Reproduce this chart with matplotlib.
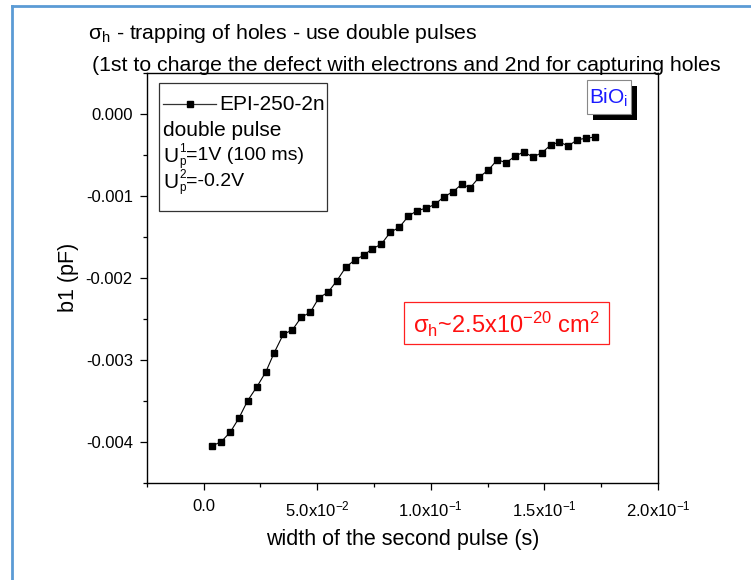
import matplotlib
matplotlib.use("Agg")
import matplotlib.pyplot as plt
from matplotlib.patches import Rectangle
from matplotlib.lines import Line2D

plt.rcParams['font.family'] = ['Liberation Sans', 'DejaVu Sans']
plt.rcParams['mathtext.fontset'] = 'custom'
plt.rcParams['mathtext.rm'] = 'Liberation Sans'
plt.rcParams['mathtext.it'] = 'Liberation Sans:italic'
plt.rcParams['mathtext.default'] = 'regular'

# second pulse width (s) and amplitude b1 (pF)
pulse_width = [0.0039, 0.0078, 0.0118, 0.0156, 0.0194, 0.0235, 0.0274, 0.0311,
               0.0351, 0.0391, 0.0430, 0.0470, 0.0508, 0.0548, 0.0587, 0.0626,
               0.0665, 0.0705, 0.0743, 0.0782, 0.0822, 0.0862, 0.0901, 0.0939,
               0.0979, 0.1019, 0.1058, 0.1097, 0.1136, 0.1174, 0.1214, 0.1254,
               0.1293, 0.1331, 0.1371, 0.1409, 0.1449, 0.1488, 0.1528, 0.1566,
               0.1605, 0.1645, 0.1683, 0.1723]
b1 = [-0.004050, -0.004001, -0.003883, -0.003712, -0.003501, -0.003330,
      -0.003150, -0.002915, -0.002690, -0.002637, -0.002482, -0.002421,
      -0.002243, -0.002177, -0.002035, -0.001872, -0.001783, -0.001725,
      -0.001645, -0.001591, -0.001444, -0.001383, -0.001249, -0.001181,
      -0.001151, -0.001103, -0.001010, -0.000952, -0.000858, -0.000900,
      -0.000769, -0.000684, -0.000558, -0.000595, -0.000516, -0.000464,
      -0.000525, -0.000476, -0.000379, -0.000342, -0.000391, -0.000314,
      -0.000297, -0.000281]

x_ticks = [0.0, 0.05, 0.10, 0.15, 0.20]
x_tick_labels = ['0.0', '5.0x10$^{-2}$', '1.0x10$^{-1}$', '1.5x10$^{-1}$', '2.0x10$^{-1}$']
y_ticks = [0.000, -0.001, -0.002, -0.003, -0.004]
y_tick_labels = ['0.000', '-0.001', '-0.002', '-0.003', '-0.004']

W, H = 751, 580
fig = plt.figure(figsize=(W / 100, H / 100), dpi=100)


def fx(px):
    return px / W


def fy(py):
    return 1 - py / H


AX_L, AX_R, AX_T, AX_B = 146.7, 658.0, 73.0, 482.6
ax = fig.add_axes([fx(AX_L), fy(AX_B), fx(AX_R) - fx(AX_L), fy(AX_T) - fy(AX_B)])


def ax_x(px):
    return (px - AX_L) / (AX_R - AX_L)


def ax_y(py):
    return (AX_B - py) / (AX_B - AX_T)


ax.plot(pulse_width, b1, color='black', lw=0.8, marker='s', ms=4.5,
        markerfacecolor='black', markeredgecolor='black')

ax.set_xlim(-0.025, 0.2)
ax.set_ylim(-0.0045, 0.0005)
ax.set_xticks(x_ticks)
ax.set_xticklabels(x_tick_labels)
ax.set_yticks(y_ticks)
ax.set_yticklabels(y_tick_labels)
ax.set_xticks([-0.025, 0.025, 0.075, 0.125, 0.175], minor=True)
ax.set_yticks([0.0005, -0.0005, -0.0015, -0.0025, -0.0035, -0.0045], minor=True)
ax.tick_params(which='major', direction='out', length=5, width=0.9, labelsize=12)
ax.tick_params(axis='x', which='major', pad=7)
ax.tick_params(axis='y', which='major', pad=5)
ax.tick_params(which='minor', direction='out', length=3, width=0.9)
ax.tick_params(top=False, right=False)
for s in ax.spines.values():
    s.set_linewidth(1.0)

ax.set_xlabel('width of the second pulse (s)', fontsize=15.5, labelpad=7)
ax.set_ylabel('b1 (pF)', fontsize=15.5, labelpad=5)

# box with series and measurement conditions
ax.add_patch(Rectangle((ax_x(159), ax_y(211)), ax_x(327) - ax_x(159), ax_y(83) - ax_y(211),
                       transform=ax.transAxes, facecolor='white', edgecolor='#333333',
                       lw=0.9, zorder=5))
ax.add_line(Line2D([ax_x(163), ax_x(216)], [ax_y(104), ax_y(104)], transform=ax.transAxes,
                   color='#333333', lw=0.9, zorder=6))
ax.add_line(Line2D([ax_x(189.5)], [ax_y(104)], transform=ax.transAxes, marker='s', ms=4.5,
                   color='black', zorder=6))
ax.text(ax_x(219), ax_y(104), 'EPI-250-2n', transform=ax.transAxes, fontsize=15,
        va='center', ha='left', zorder=6)
ax.text(ax_x(163), ax_y(130), 'double pulse', transform=ax.transAxes, fontsize=15,
        va='center', ha='left', zorder=6)


def pulse_line(py, sup, rest):
    ax.text(ax_x(163), ax_y(py), 'U', transform=ax.transAxes, fontsize=15,
            va='center', ha='left', zorder=6)
    ax.text(ax_x(179), ax_y(py - 6.5), sup, transform=ax.transAxes, fontsize=8.5,
            va='center', ha='left', zorder=6)
    ax.text(ax_x(179), ax_y(py + 6.5), 'p', transform=ax.transAxes, fontsize=8.5,
            va='center', ha='left', zorder=6)
    ax.text(ax_x(186), ax_y(py), rest, transform=ax.transAxes, fontsize=14,
            va='center', ha='left', zorder=6)


pulse_line(156, '1', '=1V (100 ms)')
pulse_line(182, '2', '=-0.2V')

# BiOi label with drop shadow
ax.add_patch(Rectangle((ax_x(592.5), ax_y(119.5)), ax_x(637) - ax_x(592.5), ax_y(86) - ax_y(119.5),
                       transform=ax.transAxes, facecolor='black', edgecolor='black', lw=0, zorder=5))
ax.add_patch(Rectangle((ax_x(587), ax_y(114)), ax_x(631) - ax_x(587), ax_y(80) - ax_y(114),
                       transform=ax.transAxes, facecolor='white', edgecolor='#888888', lw=0.8, zorder=6))
ax.text(ax_x(609), ax_y(98), 'BiO$_i$', transform=ax.transAxes, fontsize=15, color='#1a1aff',
        va='center', ha='center', zorder=7)

# capture cross-section annotation
ax.add_patch(Rectangle((ax_x(404), ax_y(344)), ax_x(609) - ax_x(404), ax_y(302) - ax_y(344),
                       transform=ax.transAxes, facecolor='white', edgecolor='#ff2020', lw=0.9, zorder=5))
ax.text(ax_x(506.5), ax_y(324), r'$\sigma_h$~2.5x10$^{-20}$ cm$^2$', transform=ax.transAxes,
        fontsize=17, color='#ff1010', va='center', ha='center', zorder=6)

# title lines
fig.text(fx(88), fy(39), r'$\sigma_h$ - trapping of holes - use double pulses', fontsize=15.3,
         va='baseline', ha='left')
fig.text(fx(92), fy(71), '(1st to charge the defect with electrons and 2nd for capturing holes',
         fontsize=15.3, va='baseline', ha='left')

# slide border
fig.add_artist(Line2D([fx(12), fx(12)], [fy(6), 0], transform=fig.transFigure,
                      color='#5b9bd5', lw=2))
fig.add_artist(Line2D([fx(12), 1], [fy(6), fy(6)], transform=fig.transFigure,
                      color='#5b9bd5', lw=2))

fig.savefig('out.png', dpi=100)
